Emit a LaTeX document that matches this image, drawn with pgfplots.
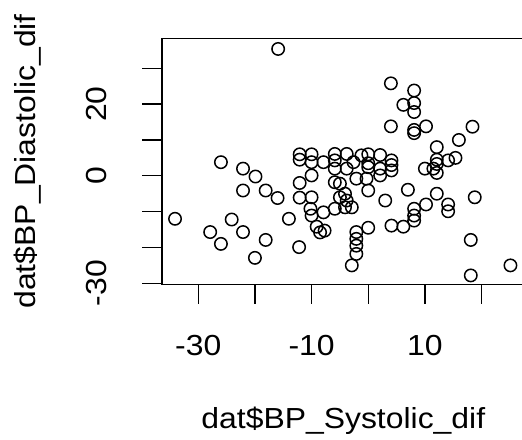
\documentclass[border=0pt]{standalone}
\usepackage{fontspec}
\setmainfont[FakeStretch=1.1]{Liberation Sans}
\usepackage{pgfplots}
\pgfplotsset{compat=1.18}
\begin{document}
\begin{tikzpicture}
\begin{axis}[
    at={(0,0)}, anchor=south west,
    scale only axis, width=181.3pt, height=123pt,
    xmin=-36.4, xmax=27.6, ymin=-30.28, ymax=38.37,
    axis line style={line width=0.7pt},
    every tick/.style={black, line width=0.7pt},
    tick align=outside, major tick length=9.8pt,
    xtick pos=lower, ytick pos=left,
    xtick={-30,-20,...,20}, xticklabels={-30,,-10,,10,},
    ytick={-30,-20,...,30}, yticklabels={-30,,,0,,20,},
    tick label style={font=\fontsize{14.5}{17}\selectfont, inner sep=0pt},
    xticklabel style={anchor=north},
    yticklabel style={rotate=90, anchor=south},
    xticklabel shift=15.6pt, yticklabel shift=17.5pt,
    label style={font=\fontsize{14.5}{17}\selectfont, inner sep=0pt},
    xlabel={dat\$BP\_Systolic\_dif},
    ylabel={dat\$BP\_Diastolic\_dif},
    xlabel style={at={(axis description cs:0.5,-0.588)}, anchor=base},
    ylabel style={at={(axis description cs:-0.3475,0.5)}, anchor=base},
]
\addplot[only marks, mark=o, mark size=3.1pt, mark options={line width=0.75pt, black}] coordinates {
(-34.1,-12.0) (-27.9,-15.7) (-26.0,-19.0) (-26.0,3.8) (-24.1,-12.2)
(-22.1,2.0) (-22.1,-4.1) (-22.1,-15.7) (-20.0,-22.9) (-19.9,-0.2)
(-18.1,-4.1) (-18.1,-17.9) (-16.0,-6.2) (-15.9,35.4) (-14.0,-12.0)
(-12.2,-19.9) (-12.1,6.0) (-12.1,4.5) (-12.1,-2.0) (-12.1,-6.1)
(-10.0,6.0) (-10.0,3.8) (-10.0,0.1) (-10.0,-6.0) (-10.2,-9.2) (-10.0,-11.1)
(-9.1,-14.2) (-8.5,-15.8) (-7.7,-15.3) (-7.9,-10.2) (-7.9,3.8)
(-5.9,6.1) (-5.9,4.3) (-5.9,2.0) (-5.9,-1.8) (-5.0,-2.2) (-5.0,-6.0)
(-4.1,-5.0) (-3.8,-6.9) (-4.1,-8.8) (-2.9,-8.8) (-5.9,-9.2)
(-3.8,6.1) (-3.8,2.0) (-2.6,3.8) (-1.2,5.7) (-2.1,-0.8)
(0.0,6.0) (0.0,3.5) (0.0,2.4) (-0.3,-0.8) (0.0,-4.1)
(-2.1,-15.7) (-2.1,-17.6) (-2.1,-19.5) (-2.1,-21.8) (0.0,-14.5) (-2.9,-25.0)
(2.1,5.8) (2.1,2.0) (2.1,0.1) (4.1,4.3) (4.1,3.0) (4.1,1.5)
(3.0,-6.9) (4.1,-13.9) (6.2,-14.2) (7.0,-3.9)
(4.0,25.8) (8.1,23.8) (6.2,19.8) (8.1,20.3) (8.1,17.8) (4.0,13.8)
(8.1,12.8) (8.1,11.9) (10.2,13.8)
(8.1,-9.2) (8.1,-11.1) (8.1,-12.5)
(10.0,2.0) (11.5,2.0) (12.1,3.3) (12.1,0.8) (12.1,4.5) (12.1,8.0)
(14.1,4.3) (15.4,5.0) (16.0,10.0) (18.4,13.7)
(10.2,-8.0) (12.1,-5.0) (14.1,-8.0) (14.1,-9.9)
(18.8,-6.0) (18.1,-17.9) (18.1,-27.8) (25.1,-25.0)
};
\end{axis}
\pgfresetboundingbox
\path[use as bounding box] (-81pt,-77.35pt) rectangle (180pt,142.15pt);
\end{tikzpicture}
\end{document}
